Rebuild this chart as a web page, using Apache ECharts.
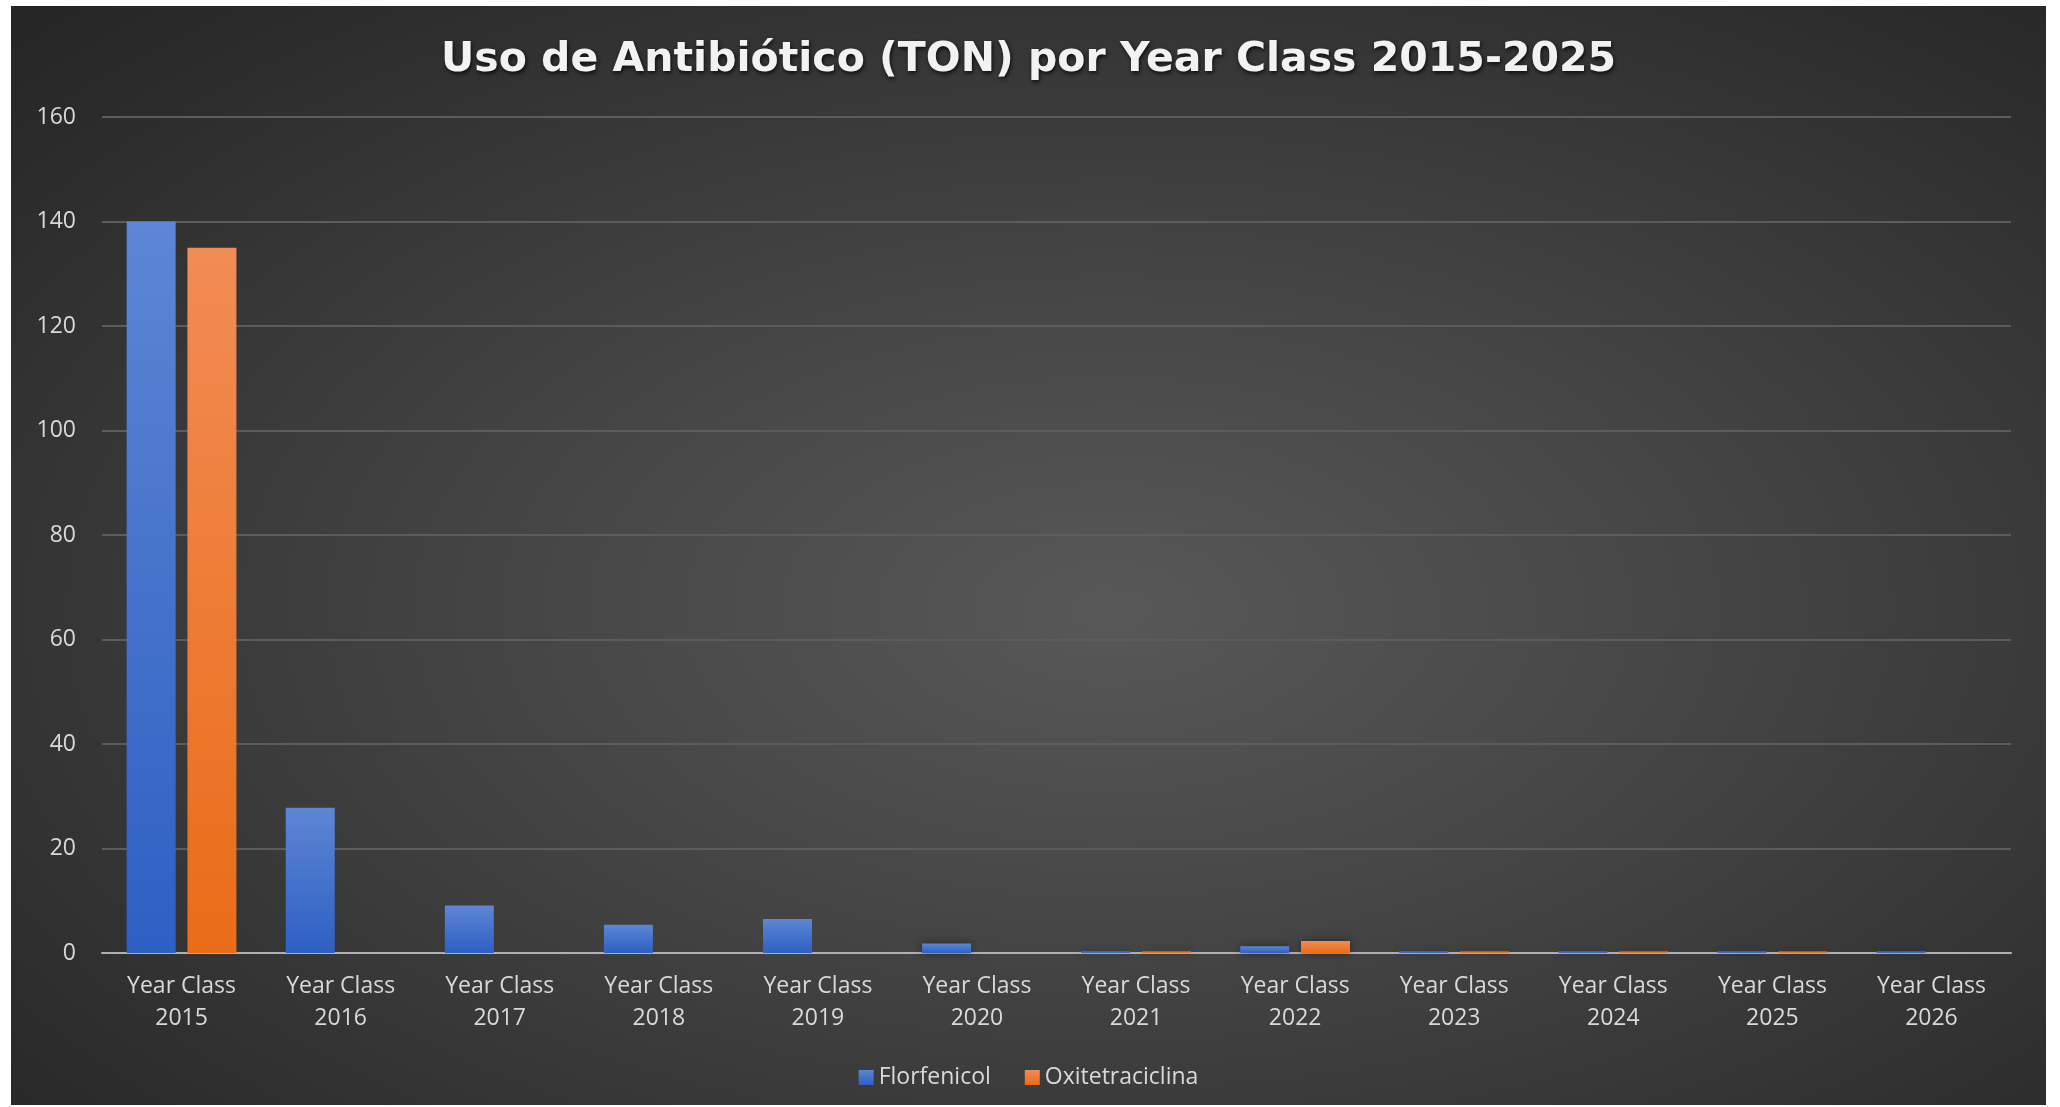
<!DOCTYPE html>
<html>
<head>
<meta charset="utf-8">
<script src="https://cdn.jsdelivr.net/npm/echarts@6/dist/echarts.min.js"></script>
<style>
  html, body { margin: 0; padding: 0; background: #ffffff; }
  #chart {
    position: absolute; left: 11px; top: 6px; width: 2035px; height: 1099px;
    background: radial-gradient(ellipse farthest-corner at 54% 55%, #585858 0%, #474747 35%, #2c2c2c 85%, #252525 100%);
  }
</style>
</head>
<body>
<div id="chart"></div>
<script>
// datos
const categories = ['Year Class\n2015', 'Year Class\n2016', 'Year Class\n2017', 'Year Class\n2018',
    'Year Class\n2019', 'Year Class\n2020', 'Year Class\n2021', 'Year Class\n2022',
    'Year Class\n2023', 'Year Class\n2024', 'Year Class\n2025', 'Year Class\n2026'];
const florfenicol = [140, 27.8, 9.1, 5.4, 6.5, 1.8, 0.3, 1.3, 0.3, 0.3, 0.3, 0.3];
const oxitetraciclina = [135, 0, 0, 0, 0, 0, 0.3, 2.3, 0.3, 0.3, 0.3, 0];
const yTicks = { min: 0, max: 160, interval: 20 };

const font = '"Open Sans", "DejaVu Sans", sans-serif';

function grad(top, bottom) {
    return new echarts.graphic.LinearGradient(0, 0, 0, 1, [
        { offset: 0, color: top },
        { offset: 1, color: bottom }
    ]);
}

const chart = echarts.init(document.getElementById('chart'), null, { renderer: 'canvas' });

var option = {
    backgroundColor: 'transparent',
    title: {
        text: 'Uso de Antibiótico (TON) por Year Class 2015-2025',
        left: 'center',
        top: 29,
        textStyle: {
            color: '#f2f2f2',
            fontFamily: '"DejaVu Sans", sans-serif',
            fontWeight: 'bold',
            fontSize: 41,
            textShadowColor: 'rgba(0,0,0,0.8)',
            textShadowBlur: 4,
            textShadowOffsetX: 1,
            textShadowOffsetY: 2
        }
    },
    legend: {
        data: ['Florfenicol', 'Oxitetraciclina'],
        left: 'center',
        top: 1055,
        itemWidth: 15,
        itemHeight: 15,
        itemGap: 34,
        icon: 'rect',
        textStyle: { color: '#d9d9d9', fontFamily: font, fontSize: 23 }
    },
    grid: {
        left: 91,
        right: 35,
        top: 111,
        bottom: 152
    },
    xAxis: {
        type: 'category',
        data: categories,
        axisTick: { show: false },
        axisLine: { lineStyle: { color: '#b0b0b0', width: 2 } },
        axisLabel: {
            color: '#d9d9d9',
            fontFamily: font,
            fontSize: 23,
            lineHeight: 32,
            margin: 17
        }
    },
    yAxis: {
        type: 'value',
        min: yTicks.min,
        max: yTicks.max,
        interval: yTicks.interval,
        axisLine: { show: false },
        axisTick: { show: false },
        axisLabel: {
            color: '#d9d9d9',
            fontFamily: font,
            fontSize: 23,
            margin: 26
        },
        splitLine: { lineStyle: { color: '#5c5c5c', width: 2 } }
    },
    series: [
        {
            name: 'Florfenicol',
            type: 'bar',
            data: florfenicol,
            barGap: '24%',
            barCategoryGap: '31%',
            itemStyle: {
                color: grad('#5d86d4', '#2d60c3'),
                shadowColor: 'rgba(0,0,0,0.45)',
                shadowBlur: 8
            }
        },
        {
            name: 'Oxitetraciclina',
            type: 'bar',
            data: oxitetraciclina,
            itemStyle: {
                color: grad('#f28c55', '#ea6c17'),
                shadowColor: 'rgba(0,0,0,0.45)',
                shadowBlur: 8
            }
        }
    ]
};
chart.setOption(option);
</script>
</body>
</html>
